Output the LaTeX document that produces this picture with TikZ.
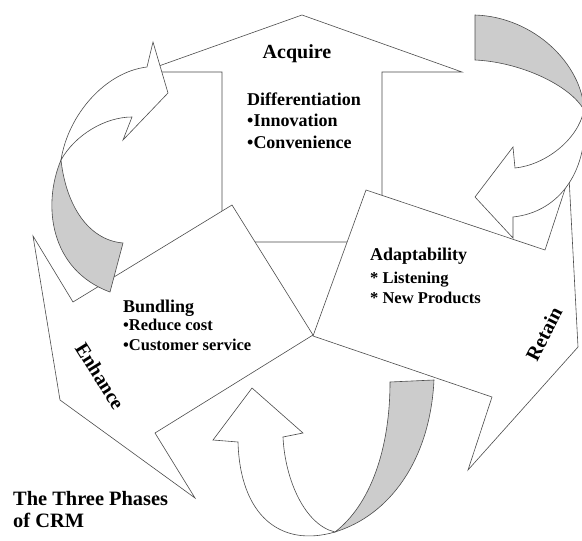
\documentclass[tikz,border=0pt]{standalone}
\usepackage{fontspec}
\setmainfont{Liberation Serif}

\begin{document}
\begin{tikzpicture}
[
    x=1pt, y=-1pt,
    block/.style={draw=black!70, line width=0.6pt, fill=white},
    ribbon/.style={draw=black!70, line width=0.6pt, fill=black!20},
    phasename/.style={font=\bfseries\fontsize{20}{24}\selectfont, inner sep=0pt},
    textblock/.style={font=\bfseries\fontsize{18}{21.5}\selectfont, anchor=base west, inner sep=0pt, align=left},
    itemblock/.style={font=\bfseries\fontsize{16.5}{20}\selectfont, anchor=base west, inner sep=0pt, align=left},
    titletext/.style={font=\bfseries\fontsize{20.4}{22}\selectfont, anchor=base west, inner sep=0pt, align=left},
]
\useasboundingbox (0,0) rectangle (582,541);

\draw[block] (302,15) -- (462,72) -- (382,72) -- (382,242) -- (222,242) -- (222,72) -- (142,72) -- cycle;
\draw[block] (60,400) -- (195,498) -- (155,433) -- (313,335) -- (232,205) -- (73,302) -- (33,236) -- cycle;
\draw[block] (366,190) -- (545,250) -- (569,177) -- (578,347) -- (468,470) -- (492,397) -- (313,336) -- cycle;

\draw[ribbon] (61,160) .. controls (42,205) and (50,270) .. (110,292) -- (123,243)
    .. controls (88,240) and (66,205) .. (61,160) -- cycle;
\draw[block] (147,67) -- (153,42) -- (168,93) -- (123,140) -- (132,117)
    .. controls (105,117) and (75,135) .. (61,160)
    .. controls (68,115) and (105,72) .. (147,67) -- cycle;

\draw[ribbon] (475,15) .. controls (535,17) and (582,65) .. (584,110)
    .. controls (570,85) and (520,62) .. (475,60) -- cycle;
\draw[block] (584,110) .. controls (590,170) and (560,212) .. (513,217) -- (513,238) -- (475,197)
    -- (513,147) -- (515,168) .. controls (545,165) and (578,140) .. (584,110) -- cycle;

\draw[ribbon] (335,532) .. controls (390,515) and (430,460) .. (434,380) -- (390,382)
    .. controls (390,450) and (370,505) .. (335,532) -- cycle;
\draw[block] (252,388) -- (213,440) -- (238,442) .. controls (240,515) and (280,548) .. (335,532)
    .. controls (305,525) and (285,480) .. (283,437) -- (303,433) -- cycle;

\node[phasename, anchor=base] (acquire) at (297,58) {Acquire};
\node[textblock] (differentiation) at (247,148) {Differentiation\\•Innovation\\•Convenience};
\node[textblock] (bundling) at (123,312) {Bundling};
\node[itemblock] (bundlingitems) at (123,350) {•Reduce cost\\•Customer service};
\node[textblock] (adaptability) at (370,260) {Adaptability};
\node[itemblock] (adaptitems) at (370,303) {* Listening\\* New Products};
\node[phasename, rotate=-58] (enhance) at (100,376) {Enhance};
\node[phasename, rotate=63] (retain) at (544,334) {Retain};
\node[titletext] (title) at (13,527) {The Three Phases\\of CRM};
\end{tikzpicture}
\end{document}
